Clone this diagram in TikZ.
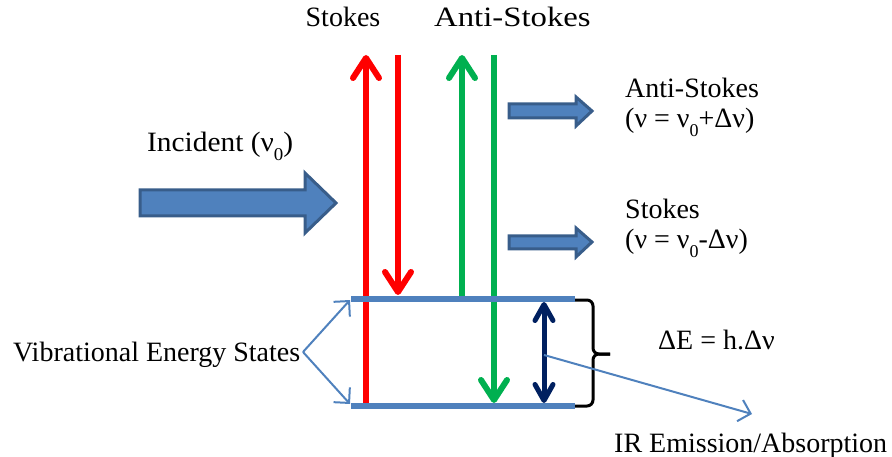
\documentclass[tikz,border=0pt]{standalone}
\usepackage{fontspec}
\setmainfont{Liberation Serif}
\usetikzlibrary{arrows.meta}
\definecolor{lvl}{HTML}{4F81BD}
\definecolor{lvldark}{HTML}{385D8A}
\definecolor{ramred}{HTML}{FF0000}
\definecolor{ramgreen}{HTML}{00B050}
\definecolor{ramnavy}{HTML}{002060}
\newcommand\lowsub[1]{\raisebox{-9pt}{\fontsize{18}{18}\selectfont #1}}
\tikzset{
  lab/.style={font=\fontsize{28}{30}\selectfont, inner sep=0pt, anchor=base west},
  bigchev/.tip={Straight Barb[length=20pt,width=26pt,round]},
  smallchev/.tip={Straight Barb[length=16pt,width=18pt,round]},
  thinchev/.tip={Straight Barb[length=11pt,width=22pt]},
  transition/.style={line width=6pt},
  level/.style={draw=lvl, line width=6.5pt},
  pointer/.style={draw=lvl, line width=2pt, -thinchev},
  blockarrow/.style={fill=lvl, draw=lvldark, line width=3pt, line join=miter},
}
\begin{document}
\begin{tikzpicture}[x=1pt,y=-1pt]
\useasboundingbox (0,0) rectangle (892,457);

% coordinates
\coordinate (ruB) at (366,406); \coordinate (ruT) at (366,55);
\coordinate (rdT) at (398,55);  \coordinate (rdB) at (398,295);
\coordinate (guB) at (462,299); \coordinate (guT) at (462,55);
\coordinate (gdT) at (494,55);  \coordinate (gdB) at (494,403);
\coordinate (nvT) at (544,302); \coordinate (nvB) at (544,403);
\coordinate (nvM) at (544,355);
\coordinate (topL) at (351,299); \coordinate (topR) at (575,299);
\coordinate (botL) at (351,406); \coordinate (botR) at (575,406);
\coordinate (vesTip) at (350,300); \coordinate (vesBot) at (350,404);
\coordinate (irTip) at (752,414);

% transitions
\draw[transition, ramred, -bigchev] (ruB) -- (ruT);
\draw[transition, ramred, -bigchev] (rdT) -- (rdB);
\draw[transition, ramgreen, -bigchev] (guB) -- (guT);
\draw[transition, ramgreen, -bigchev] (gdT) -- (gdB);
\draw[line width=5pt, ramnavy, smallchev-smallchev] (nvT) -- (nvB);

% levels
\draw[level] (topL) -- (topR);
\draw[level] (botL) -- (botR);

% brace
\draw[line width=3pt, rounded corners=6pt] (575,300) -- (593,300) -- (593,354) -- (610,354);
\draw[line width=3pt, rounded corners=6pt] (575,406) -- (593,406) -- (593,354) -- (610,354);

% block arrows
\draw[blockarrow] (140,190) -- (305,190) -- (305,173) -- (336,203) -- (305,233) -- (305,216) -- (140,216) -- cycle;
\draw[blockarrow] (509,104) -- (576,104) -- (576,97) -- (592,111) -- (576,126) -- (576,118) -- (509,118) -- cycle;
\draw[blockarrow] (509,236) -- (576,236) -- (576,228) -- (592,242) -- (576,257) -- (576,249) -- (509,249) -- cycle;

% labels
\node[lab, anchor=base] (stk) at (343,27) {Stokes};
\node[lab] (astk) at (434,27) {\scalebox{1.17}[1]{Anti-Stokes}};
\node[lab] (inc) at (147,152) {\scalebox{1.05}[1]{Incident (ν\lowsub{0})}};
\node[lab] (astkR) at (625,98) {Anti-Stokes};
\node[lab] (astkF) at (625,128) {(ν = ν\lowsub{0}+Δν)};
\node[lab] (stkR) at (625,219) {Stokes};
\node[lab] (stkF) at (625,249) {(ν = ν\lowsub{0}-Δν)};
\node[lab] (dE) at (658,349) {ΔE = h.Δν};
\node[lab] (ves) at (13,361) {Vibrational Energy States};
\node[lab] (ir) at (614,452) {IR Emission/Absorption};

% pointers
\coordinate (vesApex) at (303,352);
\draw[pointer] (vesApex) -- (vesTip);
\draw[pointer] (vesApex) -- (vesBot);
\draw[pointer] (nvM) -- (irTip);
\end{tikzpicture}
\end{document}
